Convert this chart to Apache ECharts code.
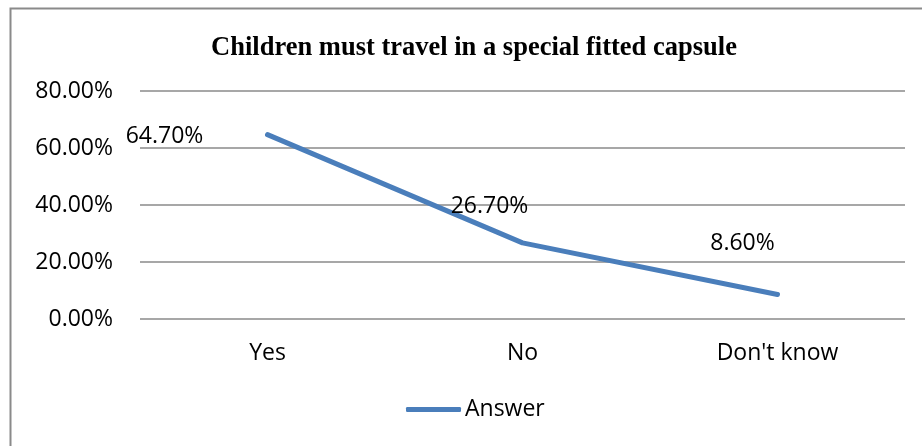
<!DOCTYPE html>
<html>
<head>
<meta charset="utf-8">
<style>
  html, body { margin: 0; padding: 0; background: #fff; }
  #chart { width: 922px; height: 446px; }
</style>
<script src="https://cdn.jsdelivr.net/npm/echarts@6/dist/echarts.min.js"></script>
</head>
<body>
<div id="chart"></div>
<script>
// Survey answers for the capsule question
const categories = ['Yes', 'No', "Don't know"];
const answerValues = [64.7, 26.7, 8.6];
const seriesName = 'Answer';
const titleText = 'Children must travel in a special fitted capsule';

// Label placements relative to each point (pixels)
const labelOffsets = [[-103, 2], [-33, -36], [-35, -51]];

const sansFont = '"Open Sans", "Noto Sans", sans-serif';
const lineColor = '#4a7ebb';

const chart = echarts.init(document.getElementById('chart'), null, { renderer: 'canvas' });

chart.setOption({
  animation: false,
  backgroundColor: '#ffffff',
  title: {
    text: titleText,
    left: 469,
    top: 30,
    textAlign: 'center',
    textStyle: {
      fontFamily: '"Liberation Serif", "Times New Roman", serif',
      fontWeight: 'bold',
      fontSize: 26.5,
      color: '#000'
    }
  },
  graphic: [{
    type: 'rect',
    left: 8,
    top: 6,
    shape: { width: 1000, height: 1000 },
    style: { fill: 'none', stroke: '#8a8a8a', lineWidth: 2 },
    silent: true,
    z: -1
  }],
  legend: {
    data: [seriesName],
    left: 406,
    top: 398,
    padding: 0,
    icon: 'roundRect',
    itemWidth: 55,
    itemHeight: 5,
    itemGap: 10,
    textStyle: { fontFamily: sansFont, fontSize: 23, color: '#000', padding: [0, 0, 0, -1] }
  },
  grid: { left: 140, right: 17, top: 91, bottom: 127, containLabel: false },
  xAxis: {
    type: 'category',
    data: categories,
    boundaryGap: true,
    axisLine: { show: false },
    axisTick: { show: false },
    axisLabel: { fontFamily: sansFont, fontSize: 23, color: '#000', margin: 23 }
  },
  yAxis: {
    type: 'value',
    min: 0,
    max: 80,
    interval: 20,
    axisLine: { show: false },
    axisTick: { show: false },
    axisLabel: {
      fontFamily: sansFont, fontSize: 23, color: '#000', margin: 27,
      formatter: v => v.toFixed(2) + '%'
    },
    splitLine: { lineStyle: { color: '#8a8a8a', width: 1.5 } }
  },
  series: [{
    name: seriesName,
    type: 'line',
    data: answerValues.map((v, i) => ({
      value: v,
      label: { offset: labelOffsets[i] }
    })),
    symbol: 'circle',
    symbolSize: 1,
    showSymbol: true,
    itemStyle: { color: lineColor },
    lineStyle: { color: lineColor, width: 5, cap: 'round', join: 'round' },
    label: {
      show: true,
      position: 'inside',
      fontFamily: sansFont,
      fontSize: 23,
      color: '#000',
      formatter: p => p.value.toFixed(2) + '%'
    }
  }]
});
</script>
</body>
</html>
